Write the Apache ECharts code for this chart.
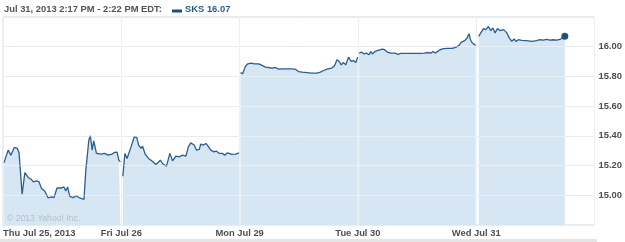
<!DOCTYPE html>
<html>
<head>
<meta charset="utf-8">
<script src="https://cdn.jsdelivr.net/npm/echarts@6/dist/echarts.min.js"></script>
<style>
html,body{margin:0;padding:0;background:#fff;}
#chart{width:625px;height:242px;}
</style>
</head>
<body>
<div id="chart"></div>
<script>
// Session minutes after 9:30 open, price
const dayLabels = ['Thu Jul 25, 2013', 'Fri Jul 26', 'Mon Jul 29', 'Tue Jul 30', 'Wed Jul 31'];
const thu = [[3,15.218],[17,15.304],[26,15.270],[37,15.322],[47,15.316],[53,15.284],[63,15.007],[72,15.153],[83,15.120],[94,15.106],[100,15.090],[111,15.097],[119,15.090],[127,15.045],[138,15.027],[149,14.982],[160,14.989],[168,14.984],[178,15.049],[193,15.049],[201,15.056],[207,15.029],[213,15.056],[220,14.993],[231,14.984],[242,14.995],[253,14.982],[267,14.973],[273,15.169],[277,15.174],[283,15.372],[288,15.401],[294,15.304],[299,15.367],[308,15.282],[324,15.277],[335,15.282],[346,15.270],[357,15.275],[368,15.289],[376,15.291],[382,15.236],[387,15.225]];
const fri = [[5,15.128],[12,15.282],[19,15.248],[32,15.326],[43,15.394],[51,15.390],[57,15.338],[65,15.316],[70,15.331],[79,15.275],[90,15.248],[101,15.230],[114,15.207],[129,15.236],[136,15.214],[149,15.196],[160,15.282],[169,15.232],[180,15.264],[191,15.259],[202,15.270],[213,15.264],[221,15.326],[229,15.353],[240,15.338],[248,15.304],[257,15.309],[262,15.345],[271,15.338],[279,15.349],[286,15.331],[295,15.304],[304,15.293],[314,15.297],[323,15.282],[333,15.282],[341,15.270],[350,15.286],[356,15.297],[364,15.275],[377,15.277],[388,15.286]];
const mon = [[3,15.826],[10,15.818],[19,15.867],[27,15.885],[38,15.890],[49,15.885],[63,15.885],[74,15.874],[85,15.863],[96,15.860],[107,15.856],[118,15.860],[129,15.849],[140,15.851],[151,15.851],[167,15.851],[184,15.849],[194,15.833],[206,15.829],[222,15.826],[238,15.822],[255,15.822],[266,15.829],[277,15.840],[288,15.849],[304,15.856],[313,15.872],[321,15.912],[328,15.901],[335,15.878],[342,15.894],[350,15.878],[359,15.930],[368,15.901],[375,15.907],[383,15.894],[389,15.930]];
const tue = [[4,15.957],[12,15.964],[20,15.951],[28,15.957],[37,15.946],[42,15.968],[48,15.951],[56,15.968],[66,15.975],[81,15.984],[88,15.980],[97,15.964],[108,15.957],[121,15.957],[133,15.948],[141,15.955],[163,15.955],[185,15.955],[207,15.955],[220,15.957],[231,15.961],[240,15.957],[248,15.968],[256,15.957],[267,15.975],[278,15.986],[294,15.989],[311,15.989],[322,15.995],[333,16.009],[340,16.029],[352,16.041],[360,16.059],[366,16.088],[371,16.047],[377,16.025],[388,16.009]];
const wed = [[8,16.070],[15,16.093],[24,16.122],[32,16.115],[40,16.137],[48,16.108],[55,16.126],[62,16.093],[70,16.122],[79,16.108],[90,16.115],[101,16.093],[108,16.063],[117,16.036],[125,16.052],[131,16.036],[139,16.047],[150,16.043],[166,16.041],[183,16.036],[199,16.041],[210,16.047],[221,16.045],[232,16.049],[243,16.045],[254,16.047],[265,16.045],[276,16.049],[292,16.070]];
const days = [thu, fri, mon, tue, wed];
const SESSION = 390;
const headerText = 'Jul 31, 2013 2:17 PM - 2:22 PM EDT:';
const legendText = 'SKS 16.07';
const creditText = '\u00A9 2013 Yahoo! Inc.';

const chart = echarts.init(document.getElementById('chart'), null, {renderer: 'canvas'});
const FONT = 'Liberation Sans, Arial, sans-serif';
const lineColor = '#2d5e90';
const fillColor = '#d6e6f2';

const series = days.map((d, i) => ({
  type: 'line',
  name: 'SKS',
  xAxisIndex: 0, yAxisIndex: 0,
  data: d.map(p => [i * SESSION + p[0], p[1]]),
  showSymbol: false,
  symbol: 'none',
  silent: true,
  lineStyle: {color: lineColor, width: 1.3},
  areaStyle: {color: fillColor, opacity: 1, origin: 'start'},
  z: 2
}));
const last = wed[wed.length - 1];
series.push({
  type: 'scatter',
  xAxisIndex: 0, yAxisIndex: 0,
  data: [[4 * SESSION + last[0], last[1]]],
  symbolSize: 7,
  itemStyle: {color: '#1c4f82', opacity: 1, borderWidth: 0},
  silent: true,
  z: 9
});

const axisCommon = {min: 0, max: 5 * SESSION, interval: SESSION};
chart.setOption({
  animation: false,
  grid: [{left: 3, right: 29, top: 17, bottom: 17, show: true, borderColor: '#d3dbe3', borderWidth: 1, backgroundColor: 'transparent'}],
  xAxis: [
    Object.assign({type: 'value', gridIndex: 0,
      axisLine: {show: false}, axisTick: {show: false},
      splitLine: {show: true, lineStyle: {color: '#d8e0e7', width: 1}},
      axisLabel: {
        show: true, margin: 4, color: '#4a4f55', fontFamily: FONT, fontWeight: 'bold', fontSize: 9.4,
        alignMinLabel: 'left',
        formatter: v => { const k = Math.round(v / SESSION); return k < dayLabels.length ? dayLabels[k] : ''; }
      }
    }, axisCommon),
    Object.assign({type: 'value', gridIndex: 0, position: 'bottom', z: 8,
      axisLine: {show: false}, axisTick: {show: false}, axisLabel: {show: false},
      splitLine: {show: true, lineStyle: {color: 'rgba(255,255,255,0.5)', width: 1}}
    }, axisCommon)
  ],
  yAxis: [
    {type: 'value', position: 'right', min: 14.8, max: 16.2, interval: 0.2, gridIndex: 0,
      axisLine: {show: false},
      axisTick: {show: true, length: 3, lineStyle: {color: '#d8e0e7'}},
      splitLine: {show: true, lineStyle: {color: '#d8e0e7', width: 1}},
      axisLabel: {show: true, margin: 4, color: '#4a4f55', fontFamily: FONT, fontWeight: 'bold', fontSize: 9.4,
        showMinLabel: false, showMaxLabel: false, formatter: v => v.toFixed(2)}
    },
    {type: 'value', position: 'right', min: 14.8, max: 16.2, interval: 0.2, gridIndex: 0, z: 8,
      axisLine: {show: false}, axisTick: {show: false}, axisLabel: {show: false},
      splitLine: {show: true, lineStyle: {color: 'rgba(255,255,255,0.4)', width: 1}}
    }
  ],
  series: series,
  graphic: [
    {type: 'text', left: 4, top: 5, silent: true,
      style: {text: headerText, fill: '#50555b', font: 'bold 9.4px ' + FONT}},
    {type: 'rect', shape: {x: 172, y: 9.5, width: 10, height: 3}, style: {fill: '#1f4e86'}, silent: true},
    {type: 'text', left: 185, top: 5, silent: true,
      style: {text: legendText, fill: '#2a5a8c', font: 'bold 9.4px ' + FONT}},
    {type: 'text', left: 7, top: 214, silent: true, z: 10,
      style: {text: creditText, fill: '#b3c0cc', font: '8.6px ' + FONT}},
    {type: 'rect', shape: {x: 0, y: 239, width: 597, height: 3}, style: {fill: '#e4e4e4'}, silent: true}
  ]
});
</script>
</body>
</html>
